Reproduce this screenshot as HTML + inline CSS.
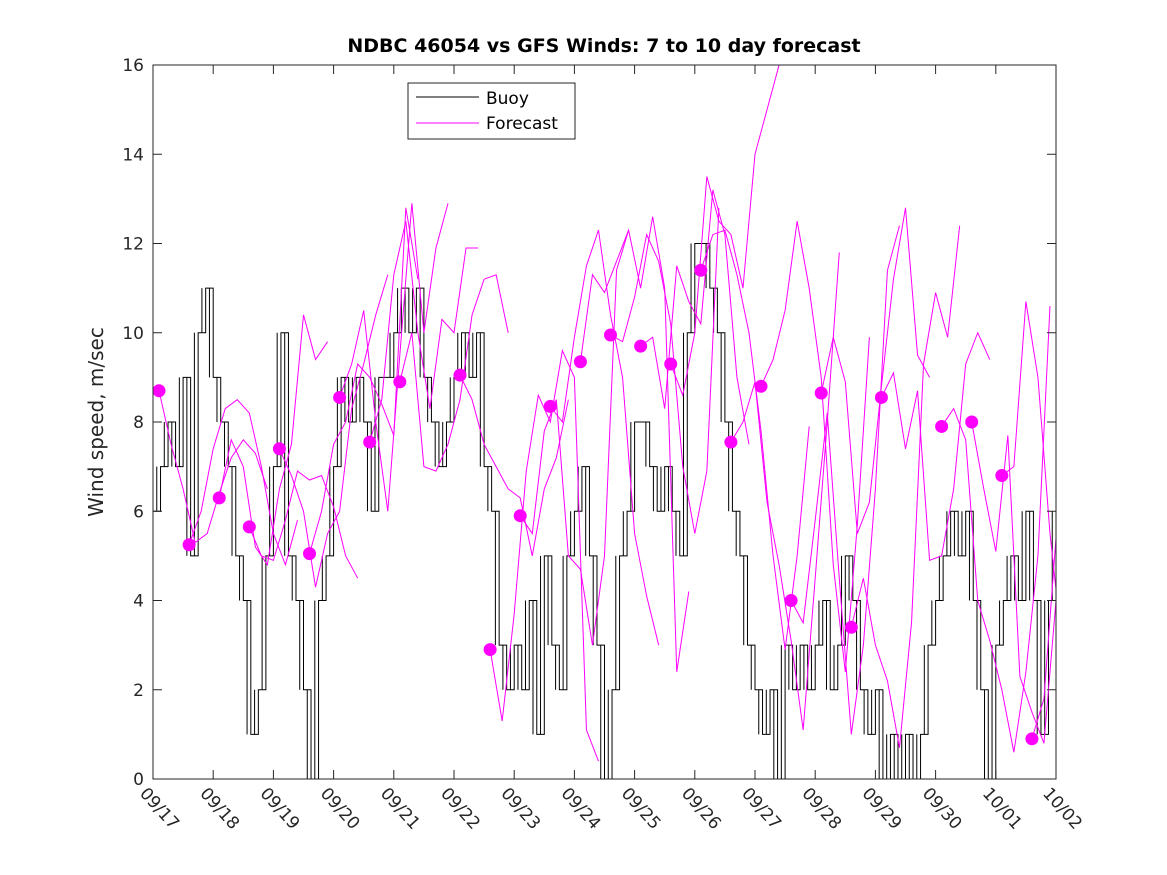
<!DOCTYPE html>
<html><head><meta charset="utf-8"><style>
body{margin:0;background:#fff;}
svg{display:block;font-family:"DejaVu Sans","Liberation Sans",sans-serif;}
</style></head><body>
<svg id="chart" width="1167" height="875" viewBox="0 0 1167 875" xmlns="http://www.w3.org/2000/svg">
<rect width="1167" height="875" fill="#fff"/>
<text x="604" y="52" text-anchor="middle" font-size="19" font-weight="bold" fill="#000">NDBC 46054 vs GFS Winds: 7 to 10 day forecast</text>
<text transform="translate(103,422) rotate(-90)" text-anchor="middle" font-size="20" fill="#262626">Wind speed, m/sec</text>
<g id="plot"></g>
<g>
<rect x="408" y="83" width="167" height="56" fill="#fff" stroke="#262626" stroke-width="1"/>
<line x1="416" y1="97" x2="479" y2="97" stroke="#000" stroke-width="1"/>
<text x="486" y="104" font-size="17" fill="#000">Buoy</text>
<line x1="416" y1="123" x2="479" y2="123" stroke="#ff00ff" stroke-width="1"/>
<text x="486" y="129" font-size="17" fill="#000">Forecast</text>
</g>
</svg>
<script>
const xTickLabels=["09/17","09/18","09/19","09/20","09/21","09/22","09/23","09/24","09/25","09/26","09/27","09/28","09/29","09/30","10/01","10/02"];
const yTickLabels=[0,2,4,6,8,10,12,14,16];
const buoyStartDay=17, buoyStep=0.125;
const buoy=[6,7,8,7,9,5,10,11, 9,8,7,5,4,1,2,5, 7,10,5,4,2,0,4,5, 7,9,8,9,8,6,9,9,
 10,11,10,11,9,8,7,8, 9,10,9,10,7,6,3,2, 3,2,4,1,5,3,2,5, 6,7,5,3,0,2,5,6,
 8,8,7,6,7,6,5,10, 12,12,11,10,8,6,5,3, 2,1,2,0,3,2,3,2, 3,4,2,3,5,4,2,1,
 2,0,1,0,1,0,1,3, 4,5,6,5,6,4,2,0, 3,4,5,4,6,4,1,4,6];
const dotStartDay=17.1, dotStep=0.5;
const dotValues=[8.7,5.25,6.3,5.65,7.4,5.05,8.55,7.55,8.9,null,9.05,2.9,5.9,8.35,9.35,9.95,9.7,9.3,11.4,7.55,8.8,4.0,8.65,3.4,8.55,null,7.9,8.0,6.8,0.9];
const fcStep=0.2;
const forecasts=[
[8.7,7.5,6.5,5.3,5.5,6.4,7.2,7.6,7.3,6.5],
[5.25,6.0,7.4,8.3,8.5,8.2,7.0,5.5,4.8,5.8],
[6.3,7.6,7.0,5.2,4.8,6.5,7.5,10.4,9.4,9.8],
[5.65,5.0,4.9,5.8,6.9,6.7,6.8,6.1,5.0,4.5],
[7.4,6.8,6.0,4.3,5.5,6.0,8.3,9.3,10.4,11.3],
[5.05,6.0,7.5,8.0,9.3,9.0,8.4,7.7,12.8,11.2],
[8.55,9.3,10.5,8.0,6.0,9.5,12.9,10.0,11.9,12.9],
[7.55,8.5,11.3,12.5,10.0,8.3,10.3,10.0,11.9,11.9],
[8.9,10.0,7.0,6.9,7.5,8.5,10.4,11.2,11.3,10.0],
[null],
[9.05,8.5,7.5,7.0,6.5,6.3,5.0,6.5,7.2,8.5],
[2.9,1.3,3.7,6.9,8.6,8.0,9.6,9.0,1.1,0.4],
[5.9,5.5,7.8,8.5,5.0,4.7,3.0,5.0,11.4,12.3],
[8.35,8.0,9.9,11.5,12.3,10.4,9.0,5.5,4.1,3.0],
[9.35,11.3,10.9,11.6,12.3,11.0,12.6,11.0,2.4,4.2],
[9.95,9.8,10.8,12.2,11.6,10.2,7.0,5.5,6.9,12.8],
[9.7,9.9,8.3,11.5,10.7,10.2,13.2,12.2,9.0,7.5],
[9.3,8.6,10.0,13.5,12.5,12.2,11.0,14.0,15.0,16.0],
[11.4,12.2,12.3,11.3,10.0,7.8,5.0,2.9,5.0,7.9],
[7.55,8.0,8.9,6.2,4.8,3.1,1.1,4.5,8.0,11.8],
[8.8,9.4,10.5,12.5,11.0,9.0,4.8,2.4,5.7,9.9],
[4.0,3.5,5.8,8.2,4.5,1.0,3.0,6.5,11.4,12.4],
[8.65,9.9,8.9,5.5,6.2,8.8,11.2,12.8,9.5,9.0],
[3.4,4.5,3.0,2.2,0.7,3.5,9.3,10.9,9.9,12.4],
[8.55,9.1,7.4,8.7,4.9,5.0,6.5,9.3,10.0,9.4],
[null],
[7.9,8.3,7.6,4.0,3.1,2.0,0.6,2.4,5.0,10.6],
[8.0,6.5,5.1,7.7,2.3,1.5,0.8,4.0,8.6,11.3],
[6.8,7.0,10.7,9.0,5.5,3.0,3.0,9.3,9.4,10.8],
[0.9,1.8,5.4,8.8,7.5,6.0,3.8,5.0,7.3,10.8]
];
const NS="http://www.w3.org/2000/svg";
const X0=153,X1=1056,Y0=779,Y1=65,D0=17,D1=32,V0=0,V1=16;
function xs(d){return X0+(d-D0)/(D1-D0)*(X1-X0);}
function ys(v){return Y0-(v-V0)/(V1-V0)*(Y0-Y1);}
const plot=document.getElementById('plot');
function mk(t,a){const e=document.createElementNS(NS,t);for(const k in a)e.setAttribute(k,a[k]);return e;}
const clip=mk('clipPath',{id:'pc'});clip.appendChild(mk('rect',{x:X0,y:Y1,width:X1-X0,height:Y0-Y1}));plot.appendChild(clip);
const series=mk('g',{'clip-path':'url(#pc)'});plot.appendChild(series);
let dB='';
buoy.forEach((v,i)=>{const x=xs(buoyStartDay+i*buoyStep),y=ys(v);
 if(i===0)dB+='M'+x+','+y;else{dB+=' H'+x+' V'+y;}
 if(i<buoy.length-1){const xm=xs(buoyStartDay+(i+0.5)*buoyStep);const alt=buoy[i+1];dB+=' H'+xm+' V'+ys(alt)+' V'+y;}
});
dB+=' H'+xs(buoyStartDay+(buoy.length-1)*buoyStep);
const bl=mk('path',{d:dB,fill:'none',stroke:'#000','stroke-width':1});


series.appendChild(bl);
forecasts.forEach((arr,k)=>{
 if(arr[0]===null)return;
 const d0=dotStartDay+k*dotStep;
 const pts=arr.map((v,j)=>xs(d0+j*fcStep)+','+ys(v)).join(' ');
 const pl=mk('polyline',{points:pts,fill:'none',stroke:'#ff00ff','stroke-width':1});
 
 
 series.appendChild(pl);
});
dotValues.forEach((v,k)=>{
 if(v===null)return;
 const c=mk('circle',{cx:xs(dotStartDay+k*dotStep),cy:ys(v),r:6.5,fill:'#ff00ff'});
 
 
 series.appendChild(c);
});
const box=mk('rect',{x:X0,y:Y1,width:X1-X0,height:Y0-Y1,fill:'none',stroke:'#262626','stroke-width':1});


plot.appendChild(box);
yTickLabels.forEach(v=>{
 const y=ys(v);
 plot.appendChild(mk('line',{x1:X0,y1:y,x2:X0+9,y2:y,stroke:'#262626'}));
 plot.appendChild(mk('line',{x1:X1,y1:y,x2:X1-9,y2:y,stroke:'#262626'}));
 const t=mk('text',{x:X0-9,y:y+6,'text-anchor':'end','font-size':17,fill:'#262626'});
 t.textContent=v;
 
 
 plot.appendChild(t);
});
xTickLabels.forEach((s,i)=>{
 const x=xs(D0+i);
 plot.appendChild(mk('line',{x1:x,y1:Y0,x2:x,y2:Y0-9,stroke:'#262626'}));
 plot.appendChild(mk('line',{x1:x,y1:Y1,x2:x,y2:Y1+9,stroke:'#262626'}));
 const t=mk('text',{transform:'translate('+(x-14)+','+(Y0+15)+') rotate(48)','font-size':17,fill:'#262626'});
 t.textContent=s;
 
 
 plot.appendChild(t);
});
</script>
</body></html>
